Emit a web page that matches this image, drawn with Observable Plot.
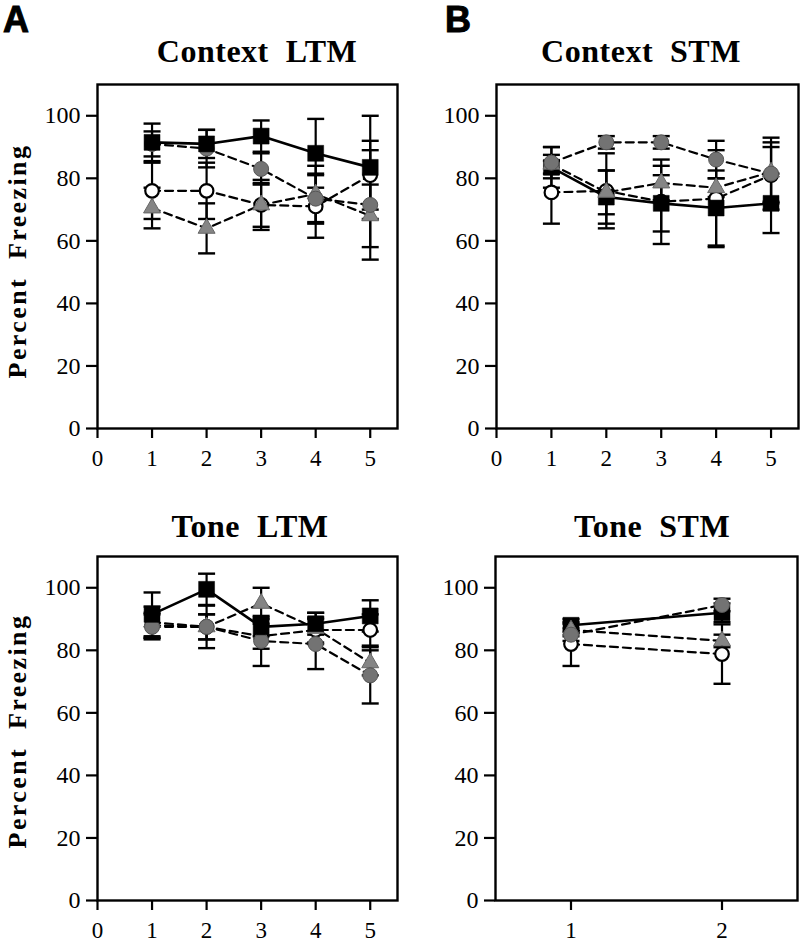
<!DOCTYPE html>
<html><head><meta charset="utf-8">
<script src="https://cdn.jsdelivr.net/npm/d3@7"></script>
<script src="https://cdn.jsdelivr.net/npm/@observablehq/plot@0.6"></script>
<style>
body{margin:0;background:#fff}
#fig{position:relative;width:800px;height:944px;background:#fff;overflow:hidden}
#fig svg text{font-family:"Liberation Serif",serif}
.p{position:absolute}
.t{position:absolute;font-family:"Liberation Serif",serif;font-weight:bold;font-size:32px;line-height:1;white-space:pre;transform:translateX(-50%);letter-spacing:0.5px;color:#000}
.L{position:absolute;font-family:"Liberation Sans",Arial,sans-serif;font-weight:bold;font-size:36px;line-height:1;-webkit-text-stroke:1px #000;color:#000}
.yl{position:absolute;font-family:"Liberation Serif",serif;font-weight:bold;font-size:26px;letter-spacing:2.4px;white-space:pre;line-height:1;transform:translate(-50%,-50%) rotate(-90deg);color:#000}
</style></head><body><div id="fig"></div>
<script>
// ---------- DATA ----------
const yTicks = [0, 20, 40, 60, 80, 100];
const sessions5 = [1, 2, 3, 4, 5];
const sessions2 = [1, 2];
const ticks5 = [0, 1, 2, 3, 4, 5];
const ticks2 = [1, 2];

// Context LTM
const ctxLtmSquare = [91.5, 91, 93.5, 88, 83.5];
const ctxLtmSquareSem = [6, 4.5, 5, 11, 16.5];
const ctxLtmOpen = [76, 76, 71.5, 71, 81];
const ctxLtmOpenSem = [9, 9, 7, 10, 11];
const ctxLtmGray = [91, 89.5, 83, 73.5, 71.5];
const ctxLtmGraySem = [4, 6, 5, 8, 17.5];
const ctxLtmTri = [70.5, 64, 71.5, 75, 68];
const ctxLtmTriSem = [6.5, 8, 8, 9, 10];

// Context STM
const ctxStmSquare = [83.5, 74, 72, 70.5, 72];
const ctxStmSquareSem = [6.5, 8.5, 9, 12, 9.5];
const ctxStmOpen = [75.5, 76, 72.5, 73.5, 81];
const ctxStmOpenSem = [10, 12, 13.5, 15.5, 9];
const ctxStmGray = [85, 91.5, 91.5, 86, 81.5];
const ctxStmGraySem = [5, 2, 2, 6, 11.5];
const ctxStmTri = [84.5, 75.5, 78.5, 77, 82];
const ctxStmTriSem = [3, 7, 5.5, 3, 9.5];

// Tone LTM
const toneLtmSquare = [91.5, 99.5, 87.5, 88.5, 91];
const toneLtmSquareSem = [7, 5, 3, 3.5, 5];
const toneLtmOpen = [88, 87.5, 84.5, 86.5, 86.5];
const toneLtmOpenSem = [4, 4, 4, 4, 5];
const toneLtmGray = [87.5, 87.5, 83, 82, 72];
const toneLtmGraySem = [4, 6.8, 8, 8, 9];
const toneLtmTri = [89, 87.5, 95, 87, 76];
const toneLtmTriSem = [5, 4, 5, 5, 4];

// Tone STM
const toneStmSquare = [88, 92];
const toneStmSquareSem = [2, 3];
const toneStmOpen = [82, 78.8];
const toneStmOpenSem = [7, 9.5];
const toneStmGray = [85, 94.5];
const toneStmGraySem = [2, 2];
const toneStmTri = [86.5, 83];
const toneStmTriSem = [2, 2];

// ---------- DRAWING ----------
const fig = document.getElementById("fig");
const serif = "Liberation Serif";
const capSymbol = {draw(ctx, size) { ctx.moveTo(-8.5, 0); ctx.lineTo(8.5, 0); }};
const dotStyles = {
  open: {symbol: "circle", r: 6.8, fill: "white", stroke: "black", strokeWidth: 2.2},
  sq:   {symbol: "square", r: 9, fill: "black", stroke: "black", strokeWidth: 0.5},
  gray: {symbol: "circle", r: 7.5, fill: "#737373", stroke: "#555", strokeWidth: 1},
  tri:  {symbol: "triangle", r: 6.3, fill: "#858585", stroke: "#666", strokeWidth: 1}
};

function makePanel(cfg) {
  const data = [];
  for (const s of cfg.series) s.v.forEach((v, i) => data.push({x: cfg.x[i], v, sem: s.sem[i], key: s.key}));
  const by = k => data.filter(d => d.key === k);
  const marks = [
    Plot.axisY({ticks: yTicks, tickSize: 11, strokeWidth: 2.2, tickPadding: 6, label: null, fontSize: 24, fontFamily: serif}),
    Plot.axisX({ticks: cfg.ticks, tickSize: 10, strokeWidth: 2.2, tickPadding: 11, label: null, fontSize: 23, fontFamily: serif, tickFormat: d3.format("d")}),
    Plot.ruleX(data, {x: "x", y1: d => d.v - d.sem, y2: d => d.v + d.sem, stroke: "black", strokeWidth: 2.2}),
    Plot.dot(data, {x: "x", y: d => d.v + d.sem, symbol: capSymbol, r: 5, fill: "none", stroke: "black", strokeWidth: 2.4}),
    Plot.dot(data, {x: "x", y: d => d.v - d.sem, symbol: capSymbol, r: 5, fill: "none", stroke: "black", strokeWidth: 2.4})
  ];
  for (const k of ["open", "gray", "tri"]) {
    marks.push(Plot.line(by(k), {x: "x", y: "v", stroke: "black", strokeWidth: 2.2, strokeDasharray: "8,5"}));
  }
  marks.push(Plot.line(by("sq"), {x: "x", y: "v", stroke: "black", strokeWidth: 2.6}));
  for (const k of cfg.order) marks.push(Plot.dot(by(k), {x: "x", y: "v", ...dotStyles[k]}));
  marks.push(Plot.frame({stroke: "black", strokeWidth: 2.4}));
  const svg = Plot.plot({
    width: 400, height: 400,
    marginLeft: cfg.ml, marginRight: cfg.mr, marginTop: 12, marginBottom: 44,
    x: {domain: cfg.xDomain},
    y: {domain: [0, 110]},
    style: {fontFamily: serif, fontSize: "24px", color: "black", background: "white", overflow: "visible"},
    marks
  });
  const wrap = document.createElement("div");
  wrap.className = "p";
  wrap.style.left = cfg.left + "px";
  wrap.style.top = cfg.top + "px";
  wrap.appendChild(svg);
  fig.appendChild(wrap);
}

function ser(sq, sqSem, open, openSem, gray, graySem, tri, triSem) {
  return [
    {key: "sq", v: sq, sem: sqSem},
    {key: "open", v: open, sem: openSem},
    {key: "gray", v: gray, sem: graySem},
    {key: "tri", v: tri, sem: triSem}
  ];
}

makePanel({left: 0, top: 72, ml: 97, mr: 3, x: sessions5, ticks: ticks5, xDomain: [0, 5.5],
  order: ["open", "tri", "gray", "sq"],
  series: ser(ctxLtmSquare, ctxLtmSquareSem, ctxLtmOpen, ctxLtmOpenSem, ctxLtmGray, ctxLtmGraySem, ctxLtmTri, ctxLtmTriSem)});
makePanel({left: 400, top: 72, ml: 96, mr: 2, x: sessions5, ticks: ticks5, xDomain: [0, 5.5],
  order: ["open", "sq", "tri", "gray"],
  series: ser(ctxStmSquare, ctxStmSquareSem, ctxStmOpen, ctxStmOpenSem, ctxStmGray, ctxStmGraySem, ctxStmTri, ctxStmTriSem)});
makePanel({left: 0, top: 544, ml: 97, mr: 3, x: sessions5, ticks: ticks5, xDomain: [0, 5.5],
  order: ["open", "tri", "gray", "sq"],
  series: ser(toneLtmSquare, toneLtmSquareSem, toneLtmOpen, toneLtmOpenSem, toneLtmGray, toneLtmGraySem, toneLtmTri, toneLtmTriSem)});
makePanel({left: 400, top: 544, ml: 95, mr: 3, x: sessions2, ticks: ticks2, xDomain: [0.5, 2.5],
  order: ["open", "sq", "tri", "gray"],
  series: ser(toneStmSquare, toneStmSquareSem, toneStmOpen, toneStmOpenSem, toneStmGray, toneStmGraySem, toneStmTri, toneStmTriSem)});

// ---------- TEXT ----------
function addText(cls, text, left, top) {
  const d = document.createElement("div");
  d.className = cls; d.textContent = text;
  d.style.left = left + "px"; d.style.top = top + "px";
  fig.appendChild(d);
}
addText("L", "A", 3, 2);
addText("L", "B", 445, 2);
addText("t", "Context  LTM", 257, 35);
addText("t", "Context  STM", 641, 35);
addText("t", "Tone  LTM", 250, 510);
addText("t", "Tone  STM", 652, 510);
addText("yl", "Percent  Freezing", 18, 261);
addText("yl", "Percent  Freezing", 18, 731);
</script></body></html>
